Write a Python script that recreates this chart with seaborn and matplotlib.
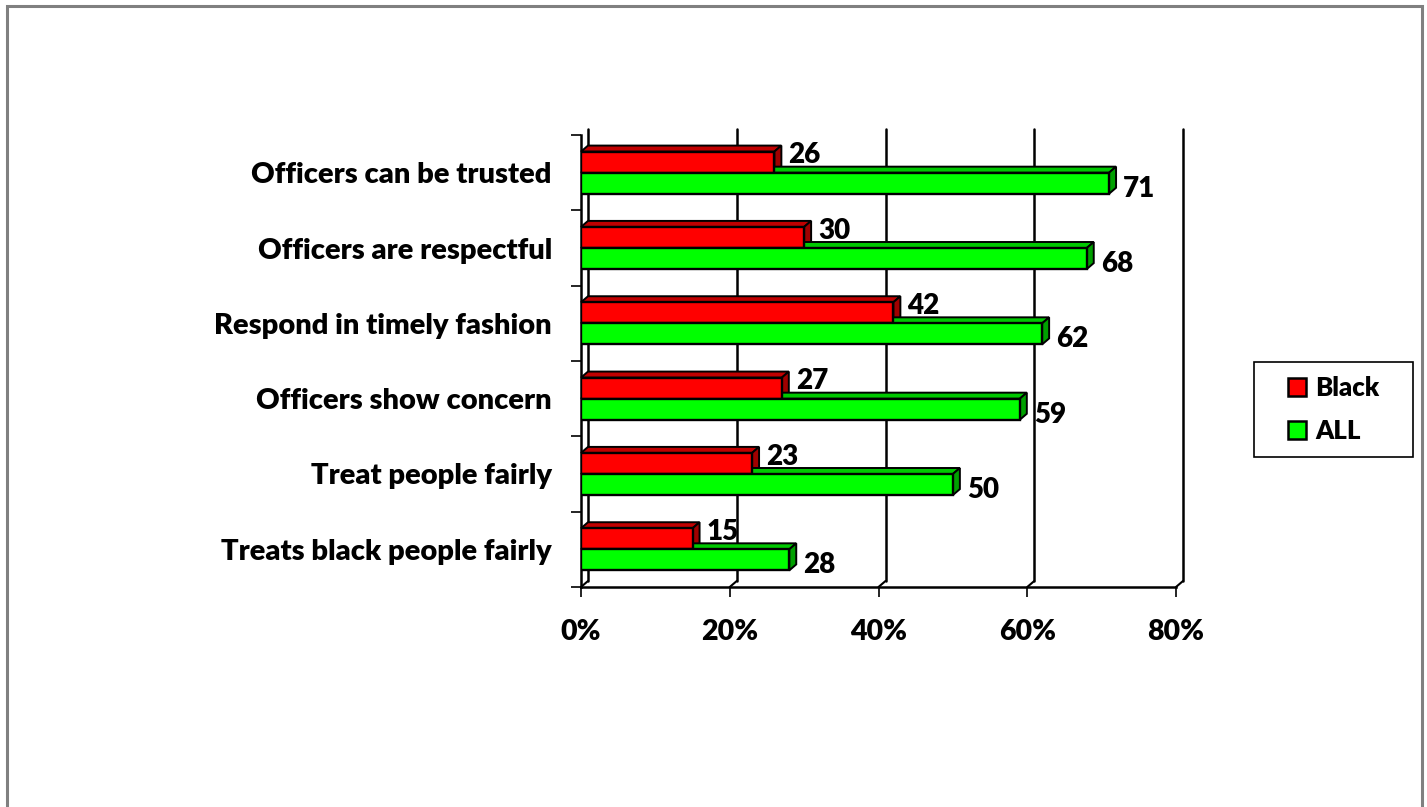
import matplotlib
matplotlib.use("Agg")
import matplotlib.pyplot as plt
import matplotlib.patches as mpatches
from matplotlib.lines import Line2D
from matplotlib.transforms import IdentityTransform
import seaborn as sns
import pandas as pd

categories = [
    "Officers can be trusted",
    "Officers are respectful",
    "Respond in timely fashion",
    "Officers show concern",
    "Treat people fairly",
    "Treats black people fairly",
]
black_values = [26, 30, 42, 27, 23, 15]
all_values = [71, 68, 62, 59, 50, 28]
series_names = ["Black", "ALL"]
x_ticks = [0, 20, 40, 60, 80]
x_tick_labels = ["0%", "20%", "40%", "60%", "80%"]

colors = {"Black": "#ff0000", "ALL": "#00ff00"}
top_colors = {"Black": "#c00000", "ALL": "#00c800"}
side_colors = {"Black": "#a00000", "ALL": "#00a000"}

df = pd.DataFrame({
    "category": categories * 2,
    "value": black_values + all_values,
    "series": ["Black"] * len(categories) + ["ALL"] * len(categories),
})

sns.set_style("white")
plt.rcParams["font.family"] = ["Lato", "DejaVu Sans"]
WEIGHT = "heavy"
plt.rcParams["font.weight"] = WEIGHT
plt.rcParams["text.color"] = "black"
plt.rcParams["xtick.labelcolor"] = "black"
plt.rcParams["ytick.labelcolor"] = "black"

W, H = 1427, 807
fig = plt.figure(figsize=(W / 100, H / 100), dpi=100)
x0, x1, ytop, ybot = 581, 1176, 135, 587
ax = fig.add_axes([x0 / W, 1 - ybot / H, (x1 - x0) / W, (ybot - ytop) / H])

sns.barplot(data=df, y="category", x="value", hue="series", order=categories,
            hue_order=series_names, palette=colors, saturation=1, width=0.56, orient="h",
            edgecolor="black", linewidth=1.7, legend=False, ax=ax)

ax.set_xlim(0, 80)
ax.set_ylim(len(categories) - 0.5, -0.5)
ax.set_xlabel("")
ax.set_ylabel("")
ax.set_xticks(x_ticks)
ax.set_xticklabels(x_tick_labels, fontsize=20.5, fontweight=WEIGHT, color="black")
ax.set_yticks(range(len(categories)))
ax.set_yticklabels(categories, fontsize=21, fontweight=WEIGHT, color="black")
ax.set_yticks([i - 0.5 for i in range(len(categories) + 1)], minor=True)
ax.tick_params(axis="y", which="major", length=0, pad=21)
ax.tick_params(axis="y", which="minor", length=7, width=1.2, color="black", direction="out", left=True)
ax.tick_params(axis="x", which="major", length=7, width=1.2, color="black", direction="out", bottom=True, pad=16)
for side in ["top", "right"]:
    ax.spines[side].set_visible(False)
for side in ["left", "bottom"]:
    ax.spines[side].set_color("black")
    ax.spines[side].set_linewidth(1.8)
ax.grid(False)

fig.canvas.draw()
DX, DY = 7, 6
ident = IdentityTransform()

# back wall gridlines and floor diagonals (behind the bars)
for xv in x_ticks:
    (fx, fy_bot) = ax.transData.transform((xv, len(categories) - 0.5))
    (_, fy_top) = ax.transData.transform((xv, -0.5))
    ax.add_line(Line2D([fx + DX, fx + DX], [fy_bot + DY, fy_top + DY], color="black",
                       lw=1.8, transform=ident, zorder=1, clip_on=False))
    ax.add_line(Line2D([fx, fx + DX], [fy_bot, fy_bot + DY], color="black",
                       lw=1.5, transform=ident, zorder=1, clip_on=False))

# 3D faces for each bar
series_of_patch = []
for s in series_names:
    series_of_patch += [s] * len(categories)
bars = [p for p in ax.patches if isinstance(p, mpatches.Rectangle) and p.get_width() > 0]
for p, s in zip(bars, series_of_patch):
    p.set_zorder(3)
    bb = p.get_window_extent()
    bx0, by0, bx1, by1 = bb.x0, bb.y0, bb.x1, bb.y1
    top = mpatches.Polygon([(bx0, by1), (bx1, by1), (bx1 + DX, by1 + DY), (bx0 + DX, by1 + DY)],
                           closed=True, facecolor=top_colors[s], edgecolor="black", lw=1.4,
                           transform=ident, zorder=2, clip_on=False)
    side = mpatches.Polygon([(bx1, by0), (bx1, by1), (bx1 + DX, by1 + DY), (bx1 + DX, by0 + DY)],
                            closed=True, facecolor=side_colors[s], edgecolor="black", lw=1.4,
                            transform=ident, zorder=2, clip_on=False)
    ax.add_patch(top)
    ax.add_patch(side)

# value labels
for p, s in zip(bars, series_of_patch):
    val = p.get_width()
    yc = p.get_y() + p.get_height() / 2
    dy_pt = 5 if s == "Black" else -4
    ax.annotate(f"{val:.0f}", xy=(val, yc), xytext=(10, dy_pt), textcoords="offset points",
                ha="left", va="center", fontsize=20, fontweight=WEIGHT, color="black",
                annotation_clip=False, zorder=5)

# legend with a plain box around it
handles = [mpatches.Patch(facecolor=colors[s], edgecolor="black", lw=1.8, label=s) for s in series_names]
lx0, lx1, ly0, ly1 = 1254, 1413, 362, 457
leg = fig.legend(handles=handles, loc="center",
                 bbox_to_anchor=((lx0 + lx1) / 2 / W, 1 - (ly0 + ly1) / 2 / H),
                 frameon=False, handlelength=0.7, handleheight=0.7, handletextpad=0.35,
                 labelspacing=0.75, borderpad=0.2, labelcolor="black",
                 prop={"weight": WEIGHT, "size": 18.5})
fig.add_artist(mpatches.Rectangle((lx0 / W, 1 - ly1 / H), (lx1 - lx0) / W, (ly1 - ly0) / H,
                                  transform=fig.transFigure, fill=False,
                                  edgecolor="black", lw=1.2))

# outer frame
fig.add_artist(mpatches.Rectangle((7 / W, -0.01), (1422 - 7) / W, 1 - 6 / H + 0.01,
                                  transform=fig.transFigure, fill=False,
                                  edgecolor="#808080", lw=2.2, zorder=0))

fig.savefig("out.png", dpi=100)
